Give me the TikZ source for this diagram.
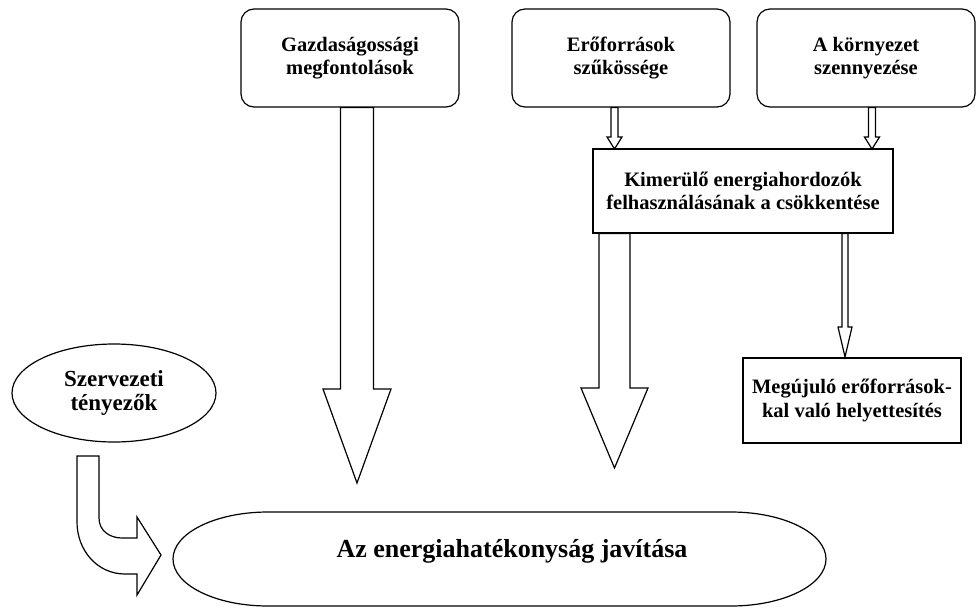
\documentclass[tikz,border=0pt]{standalone}
\usepackage{fontspec}
\setmainfont{Liberation Serif}
\usetikzlibrary{shapes.geometric,calc}

\tikzset{
  outline/.style={draw=black,line width=1.2pt},
  boxtext/.style={align=center,font=\fontsize{20.5}{23.5}\selectfont\bfseries,inner sep=0pt},
  roundbox/.style={outline,boxtext,rounded corners=13pt,minimum width=218pt,minimum height=98pt},
  sharpbox/.style={outline,boxtext,fill=white},
  oval/.style={outline,ellipse,inner sep=0pt,align=center},
  arrowbody/.style={outline,fill=white,line join=miter},
}

% Block arrow pointing down: #1 start point, #2 tip, #3 shaft half width,
% #4 head half width, #5 head length
\newcommand\blockarrow[5]{%
  \draw[arrowbody] let \p1=(#1), \p2=(#2) in
    (\x1-#3,\y1) -- (\x1+#3,\y1) -- (\x1+#3,\y2+#5) -- (\x1+#4,\y2+#5)
    -- (\x1,\y2) -- (\x1-#4,\y2+#5) -- (\x1-#3,\y2+#5) -- cycle;}

\begin{document}
\begin{tikzpicture}[x=1pt,y=-1pt]
\useasboundingbox (0,0) rectangle (977,608);

% top row of causes
\node[roundbox] (gazd) at (350,58) {Gazdaságossági\\megfontolások};
\node[roundbox] (eroforr) at (621,58) {Erőforrások\\szűkössége};
\node[roundbox] (korny) at (866,58) {A környezet\\szennyezése};

% middle and side boxes
\node[sharpbox,minimum width=300pt,minimum height=84pt] (kimer) at (743,191)
  {Kimerülő energiahordozók\\felhasználásának a csökkentése};
\node[sharpbox,minimum width=218pt,minimum height=85pt] (megujul) at (852,400.5)
  {Megújuló erőforrások-\\kal való helyettesítés};

% organisational factors
\node[oval,minimum width=204pt,minimum height=98pt,
      font=\fontsize{23}{23.5}\selectfont\bfseries] (szerv) at (114,393)
  {Szervezeti\\tényezők};

% goal: a long oval with flat top and bottom
\draw[outline] (268,512) -- (731,512)
  arc[start angle=-90,end angle=90,x radius=95,y radius=47] -- (268,606)
  arc[start angle=90,end angle=270,x radius=95,y radius=47] -- cycle;
\node[font=\fontsize{26}{28}\selectfont\bfseries] (javit) at (512,551)
  {Az energiahatékonyság javítása};

% arrow tips
\coordinate (tipA) at (357,483);
\coordinate (tipB) at (614.5,468);
\coordinate (tipC) at (845,357);
\coordinate (tipD) at (614.5,149);
\coordinate (tipE) at (872,149);

% small arrows into the middle box
\blockarrow{tipD |- eroforr.south}{tipD}{3.5pt}{7.5pt}{12pt}
\blockarrow{tipE |- korny.south}{tipE}{3.5pt}{7.5pt}{12pt}

% long arrows
\blockarrow{tipA |- gazd.south}{tipA}{16.5pt}{34pt}{94pt}
\blockarrow{tipB |- kimer.south}{tipB}{15.5pt}{33.5pt}{80pt}
\blockarrow{tipC |- kimer.south}{tipC}{3pt}{7pt}{30pt}

% bent arrow from the organisational factors
\draw[arrowbody] (77,456) -- (99,456) -- (99,518)
  .. controls (99,531) and (110,538) .. (122,538) -- (137,538) -- (137,517)
  -- (161,555) -- (137,595) -- (137,574) -- (125,574)
  .. controls (97,574) and (77,550) .. (77,522) -- cycle;
\end{tikzpicture}
\end{document}
